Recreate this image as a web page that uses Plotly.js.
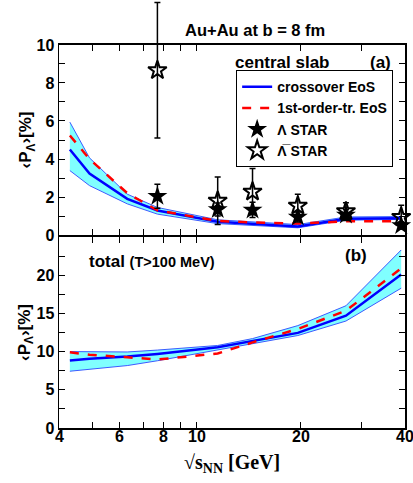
<!DOCTYPE html>
<html><head><meta charset="utf-8">
<script src="https://cdn.plot.ly/plotly-3.0.1.min.js"></script>
<style>body{margin:0;padding:0;background:#fff}#chart{width:413px;height:483px}</style>
</head><body><div id="chart"></div>
<script>
// model energies (GeV)
const energies = [4.3, 4.9, 6.3, 7.7, 11.5, 14.5, 19.6, 27, 39];
// central slab (a)
const slabCross = [4.5, 3.23, 1.9, 1.29, 0.7, 0.58, 0.45, 0.85, 0.88];
const slabCrossLo = [3.39, 2.6, 1.64, 1.1, 0.6, 0.5, 0.38, 0.78, 0.82];
const slabCrossHi = [5.94, 4.06, 2.15, 1.45, 0.8, 0.68, 0.55, 0.95, 0.97];
const slab1st = [5.24, 4.0, 2.2, 1.3, 0.74, 0.66, 0.6, 0.72, 0.72];
// total (b)
const totCross = [8.83, 9.05, 9.35, 9.7, 10.57, 11.4, 12.45, 14.7, 20.1];
const totCrossLo = [7.43, 7.7, 8.17, 8.8, 10.2, 11.1, 12.1, 14.0, 18.3];
const totCrossHi = [10.0, 9.95, 9.95, 10.2, 10.8, 11.7, 13.4, 16.0, 23.3];
const tot1st = [9.9, 9.6, 9.26, 8.96, 9.75, 11.2, 12.96, 15.35, 20.9];
// STAR data
const starE = [7.7, 11.5, 14.5, 19.6, 27, 39];
const lamP = [2.04, 1.34, 1.32, 0.95, 1.05, 0.50];
const lamErr = [0.63, 0.34, 0.40, 0.26, 0.28, 0.19];
const alamP = [8.67, 1.80, 2.28, 1.54, 1.25, 0.95];
const alamErr = [3.57, 1.25, 1.22, 0.61, 0.45, 0.62];
// ticks
const xTickVals = [4, 6, 8, 10, 20, 40];
const xTickText = ['4', '6', '8', '10', '20', '40'];
const xMinorVals = [5, 7, 9, 30];
const yTopTickVals = [0, 2, 4, 6, 8, 10];
const yTopMinorVals = [1, 3, 5, 7, 9];
const yBotTickVals = [0, 5, 10, 15, 20];
const yBotMinorVals = [2.5, 7.5, 12.5, 17.5, 22.5];

const B = t => '<b>' + t + '</b>';
const cyan = 'rgb(128,255,255)';
const edge = 'rgb(60,90,255)';
const SANS = 'Liberation Sans, Arial, sans-serif';
const bold = {family:SANS, size:16, color:'#000', weight:'bold'};
const xRange = [Math.log10(4), Math.log10(40)];

function band(lo, hi, xa, ya){
  return [
    {x:energies, y:lo, xaxis:xa, yaxis:ya, mode:'lines', line:{color:edge, width:1}, showlegend:false, hoverinfo:'skip'},
    {x:energies, y:hi, xaxis:xa, yaxis:ya, mode:'lines', line:{color:edge, width:1}, fill:'tonexty', fillcolor:cyan, showlegend:false, hoverinfo:'skip'}
  ];
}

const traces = [
  ...band(slabCrossLo, slabCrossHi, 'x2', 'y2'),
  {x:energies, y:slabCross, xaxis:'x2', yaxis:'y2', mode:'lines', name:B('crossover EoS'), line:{color:'#0000ff', width:2.5}},
  {x:energies, y:slab1st, xaxis:'x2', yaxis:'y2', mode:'lines', name:B('1st-order-tr. EoS'), line:{color:'#ff0000', width:2.5, dash:'dash'}},
  {x:starE, y:lamP, xaxis:'x2', yaxis:'y2', mode:'markers', name:B('\u039B STAR'), cliponaxis:false,
   marker:{symbol:'star', size:15, color:'#000'},
   error_y:{type:'data', array:lamErr, color:'#000', thickness:1.5, width:3}},
  // antilambda on an invisible taller axis with identical scale so the large error bar is not clipped
  {x:starE, y:alamP, xaxis:'x3', yaxis:'y3', mode:'markers', name:B('\u039B\u0305 STAR'), cliponaxis:false,
   marker:{symbol:'star-open', size:14, color:'#000', line:{color:'#000', width:2}},
   error_y:{type:'data', array:alamErr, color:'#000', thickness:1.5, width:3}},
  ...band(totCrossLo, totCrossHi, 'x', 'y'),
  {x:energies, y:totCross, xaxis:'x', yaxis:'y', mode:'lines', showlegend:false, line:{color:'#0000ff', width:2.5}},
  {x:energies, y:tot1st, xaxis:'x', yaxis:'y', mode:'lines', showlegend:false, line:{color:'#ff0000', width:2.5, dash:'dash'}}
];

const tickStyle = {ticks:'inside', ticklen:6, tickwidth:1, tickcolor:'#000'};
const xCommon = Object.assign({type:'log', range:xRange, autorange:false, tickmode:'array', tickvals:xTickVals, ticktext:xTickText,
  showticklabels:false,
  minor:Object.assign({tickmode:'array', tickvals:xMinorVals, showgrid:false}, tickStyle),
  showline:true, linecolor:'#000', linewidth:1.5, mirror:'allticks',
  showgrid:false, zeroline:false, tickfont:bold, domain:[0,1]}, tickStyle);
const yCommon = Object.assign({showline:true, linecolor:'#000', linewidth:1.5, mirror:'allticks',
  showgrid:false, zeroline:false, tickfont:bold, automargin:false, autorange:false, tickmode:'array'}, tickStyle);

const topDom = [0.4509, 0.8949];
const yTitle = {text:B('\u2039P<sub>\u039B</sub>\u203A[%]'), font:{family:SANS, size:17, color:'#000', weight:'bold'}, standoff:0};
const annFont = s => ({family:SANS, size:s, color:'#000', weight:'bold'});

// x tick labels placed on the bottom x axis scale (log axis: annotation x in log10 units)
const xLabelAnns = xTickVals.map((v, i) => ({text:B(xTickText[i]), xref:'x', yref:'paper', x:Math.log10(v), y:-0.021,
  xanchor:'center', yanchor:'middle', showarrow:false, font:annFont(16)}));

const layout = {
  width:413, height:483,
  margin:{l:59, r:8, t:0, b:55},
  paper_bgcolor:'#fff', plot_bgcolor:'rgba(0,0,0,0)',
  showlegend:true,
  legend:{x:0.512, y:0.836, xref:'paper', yref:'paper', xanchor:'left', yanchor:'top', traceorder:'normal',
    bgcolor:'#fff', bordercolor:'#000', borderwidth:1, font:{family:SANS, size:14, color:'#000', weight:'bold'},
    tracegroupgap:0, itemwidth:30},
  xaxis:Object.assign({}, xCommon, {anchor:'y'}),
  xaxis2:Object.assign({}, xCommon, {anchor:'y2'}),
  xaxis3:{anchor:'y3', type:'log', range:xRange, autorange:false, visible:false, domain:[0,1]},
  yaxis:Object.assign({}, yCommon, {domain:[0,0.4463], range:[0,25], tickvals:yBotTickVals,
    minor:Object.assign({tickmode:'array', tickvals:yBotMinorVals, showgrid:false}, tickStyle), title:yTitle}),
  yaxis2:Object.assign({}, yCommon, {domain:topDom, range:[0,10], anchor:'x2', tickvals:yTopTickVals,
    minor:Object.assign({tickmode:'array', tickvals:yTopMinorVals, showgrid:false}, tickStyle), title:yTitle}),
  yaxis3:{domain:[topDom[0], 1], range:[0, 10 * (1 - topDom[0]) / (topDom[1] - topDom[0])], autorange:false, anchor:'x3', visible:false},
  annotations:[
    ...xLabelAnns,
    {text:B('Au+Au at b = 8 fm'), xref:'paper', yref:'paper', x:0.566, y:0.930, xanchor:'center', yanchor:'middle', showarrow:false, font:annFont(16.5)},
    {text:B('central slab'), xref:'paper', yref:'paper', x:0.646, y:0.853, xanchor:'center', yanchor:'middle', showarrow:false, font:annFont(17)},
    {text:B('(a)'), xref:'paper', yref:'paper', x:0.929, y:0.853, xanchor:'center', yanchor:'middle', showarrow:false, font:annFont(17)},
    {text:"<b>total <span style='font-size:14.5px'>(T>100 MeV)</span></b>", xref:'paper', yref:'paper', x:0.082, y:0.388, xanchor:'left', yanchor:'middle', showarrow:false, font:annFont(17)},
    {text:B('(b)'), xref:'paper', yref:'paper', x:0.858, y:0.404, xanchor:'center', yanchor:'middle', showarrow:false, font:annFont(17)},
    {text:B('\u221As<sub>NN</sub> [GeV]'), xref:'paper', yref:'paper', x:0.5, y:-0.0818, xanchor:'center', yanchor:'middle', showarrow:false,
     font:{family:'Liberation Serif, Times New Roman, serif', size:20, color:'#000', weight:'bold'}}
  ]
};

Plotly.newPlot('chart', traces, layout, {staticPlot:true, displayModeBar:false});
</script></body></html>
